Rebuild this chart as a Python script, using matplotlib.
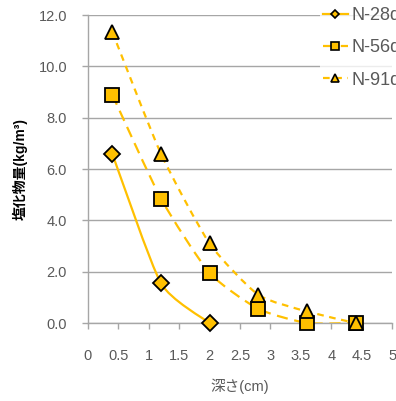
import matplotlib
matplotlib.use("Agg")
import matplotlib.pyplot as plt
from matplotlib.path import Path
from matplotlib.patches import PathPatch
from matplotlib.lines import Line2D
import numpy as np

plt.rcParams['font.family'] = ['Liberation Sans', 'Noto Sans CJK JP', 'DejaVu Sans']

# データ
depth_28 = [0.4, 1.2, 2.0]
chloride_28 = [6.6, 1.55, 0.0]
depth_56 = [0.4, 1.2, 2.0, 2.8, 3.6, 4.4]
chloride_56 = [8.9, 4.85, 1.95, 0.55, 0.0, 0.0]
depth_91 = [0.4, 1.2, 2.0, 2.8, 3.6, 4.4]
chloride_91 = [11.35, 6.6, 3.1, 1.1, 0.45, 0.0]

labels = ['N-28d', 'N-56d', 'N-91d']
markers = ['D', 's', '^']
msizes = [8, 10, 10]
lstyles = ['-', (0, (5, 3)), (0, (3, 2.5))]

orange = '#FFC000'
gray_txt = '#595959'
grid_c = '#A6A6A6'


def smooth_path(xs, ys, k=10.0):
    # Excel風のスムージング線 (ベジェ曲線)
    pts = np.column_stack([xs, ys]).astype(float)
    n = len(pts)
    verts = [pts[0]]
    codes = [Path.MOVETO]
    for i in range(n - 1):
        p0 = pts[max(i - 1, 0)]
        p1 = pts[i]
        p2 = pts[i + 1]
        p3 = pts[min(i + 2, n - 1)]
        c1 = p1 + (p2 - p0) / k
        c2 = p2 - (p3 - p1) / k
        verts += [c1, c2, p2]
        codes += [Path.CURVE4] * 3
    return Path(verts, codes)


fig = plt.figure(figsize=(3.96, 4.01), dpi=100)
ax = fig.add_axes([0.222, 0.1945, 0.768, 0.768])

series = [(depth_28, chloride_28), (depth_56, chloride_56), (depth_91, chloride_91)]
handles = []
for (xs, ys), lab, mk, ms, ls in zip(series, labels, markers, msizes, lstyles):
    patch = PathPatch(smooth_path(xs, ys), facecolor='none', edgecolor=orange,
                      linewidth=1.6, linestyle=ls, zorder=3)
    ax.add_patch(patch)
    ax.plot(xs, ys, linestyle='none', marker=mk, markersize=ms,
            markerfacecolor=orange, markeredgecolor='black',
            markeredgewidth=1.3, zorder=4, clip_on=False)
    handles.append(Line2D([], [], color=orange, linestyle=ls, linewidth=1.6,
                          marker=mk, markersize=ms * 0.55,
                          markerfacecolor=orange, markeredgecolor='black',
                          markeredgewidth=1.2, label=lab))

ax.set_xlim(0, 5)
ax.set_ylim(0, 12)
ax.set_xticks(np.arange(0, 5.01, 0.5))
ax.set_xticklabels(['%g' % v for v in np.arange(0, 5.01, 0.5)])
ax.set_yticks(np.arange(0, 12.01, 2))
ax.set_yticklabels(['%.1f' % v for v in np.arange(0, 12.01, 2)])

ax.grid(axis='y', color=grid_c, linewidth=1.0)
ax.set_axisbelow(True)
for s in ['top', 'right']:
    ax.spines[s].set_visible(False)
for s in ['left', 'bottom']:
    ax.spines[s].set_color(grid_c)
    ax.spines[s].set_linewidth(1.0)
ax.tick_params(axis='both', colors=grid_c, labelcolor=gray_txt,
               labelsize=10.5, length=4, width=1.0, direction='out')
ax.tick_params(axis='x', pad=15)
ax.tick_params(axis='y', pad=11)

ax.set_xlabel('深さ(cm)', fontsize=10.5, color=gray_txt, labelpad=11)
ax.set_ylabel('塩化物量(kg/m³)', fontsize=10, color='black',
              fontweight='bold', labelpad=8)

leg = fig.legend(handles=handles, loc='upper left',
                 bbox_to_anchor=(0.808, 0.989), frameon=True,
                 fontsize=13, handlelength=1.4, handletextpad=0.2,
                 labelspacing=0.85, borderaxespad=0, borderpad=0.15)
leg.get_frame().set_facecolor('white')
leg.get_frame().set_edgecolor('none')
for t in leg.get_texts():
    t.set_color(gray_txt)

fig.savefig('out.png', dpi=100)
